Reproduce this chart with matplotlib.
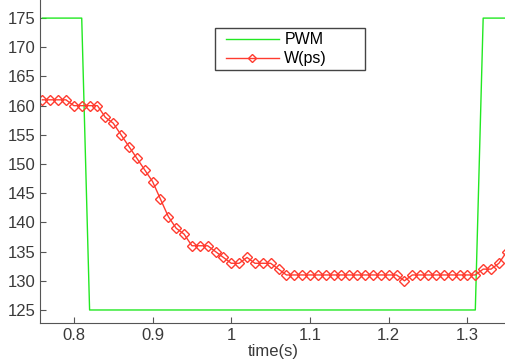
import numpy as np
import matplotlib
matplotlib.use("Agg")
import matplotlib.pyplot as plt
from matplotlib.patches import Rectangle

plt.rcParams['font.family'] = ['Liberation Sans', 'DejaVu Sans']

time = [round(0.76 + 0.01 * i, 2) for i in range(60)]
w_ps = [161, 161, 161, 161, 160, 160, 160, 160, 158, 157,
        155, 153, 151, 149, 147, 144, 141, 139, 138, 136,
        136, 136, 135, 134, 133, 133, 134, 133, 133, 133,
        132, 131] + [131] * 14 + [130] + [131] * 9 + [132, 132, 133, 135]
pwm = [175] * 6 + [125] * 50 + [175] * 4

W, H = 506, 362
AX_L, AX_B = 40, 323  # pixel positions of axes left / bottom
fig = plt.figure(figsize=(W / 100, H / 100), dpi=100)
ax = fig.add_axes([AX_L / W, 1 - AX_B / H, 1 - AX_L / W, AX_B / H])

ax.plot(time, pwm, color='#22e822', lw=1.0, label='PWM')
ax.plot(time, w_ps, color='#ff3b2f', lw=1.0, marker='D', markersize=4.8,
        markerfacecolor='none', markeredgecolor='#ff3b2f', markeredgewidth=1.0,
        label='W(ps)')

ax.set_xlim(0.757, 1.349)
ax.set_ylim(122.77, 178.1)
ax.set_xticks([0.8, 0.9, 1.0, 1.1, 1.2, 1.3])
ax.set_xticklabels(['0.8', '0.9', '1', '1.1', '1.2', '1.3'])
ax.set_yticks(list(range(125, 176, 5)))

for s in ['top', 'right']:
    ax.spines[s].set_visible(False)
for s in ['left', 'bottom']:
    ax.spines[s].set_color('#555555')
ax.tick_params(direction='in', length=4, colors='#555555', labelsize=12,
               labelcolor='#3a3a3a')
ax.set_xlabel('time(s)', fontsize=12, color='#3a3a3a', labelpad=1)


def px(x, y):
    """figure pixel (from top-left) -> axes fraction"""
    return (x - AX_L) / (W - AX_L), 1 - y / AX_B


# legend frame
fx0, fy0 = px(215, 70)
fx1, fy1 = px(365, 28)
ax.add_patch(Rectangle((fx0, fy0), fx1 - fx0, fy1 - fy0, transform=ax.transAxes,
                       facecolor='white', edgecolor='#444444', lw=1.0, zorder=5))

lx, ly = px(226, 32.5)
leg = ax.legend(loc='upper left', bbox_to_anchor=(lx, ly),
                frameon=False, fontsize=11.5,
                handlelength=3.3, borderpad=0, labelspacing=0.25,
                handletextpad=0.35, borderaxespad=0)
leg.set_zorder(6)
for hnd in leg.legend_handles:
    hnd.set_markersize(3.8)

fig.savefig('out.png', dpi=100)
